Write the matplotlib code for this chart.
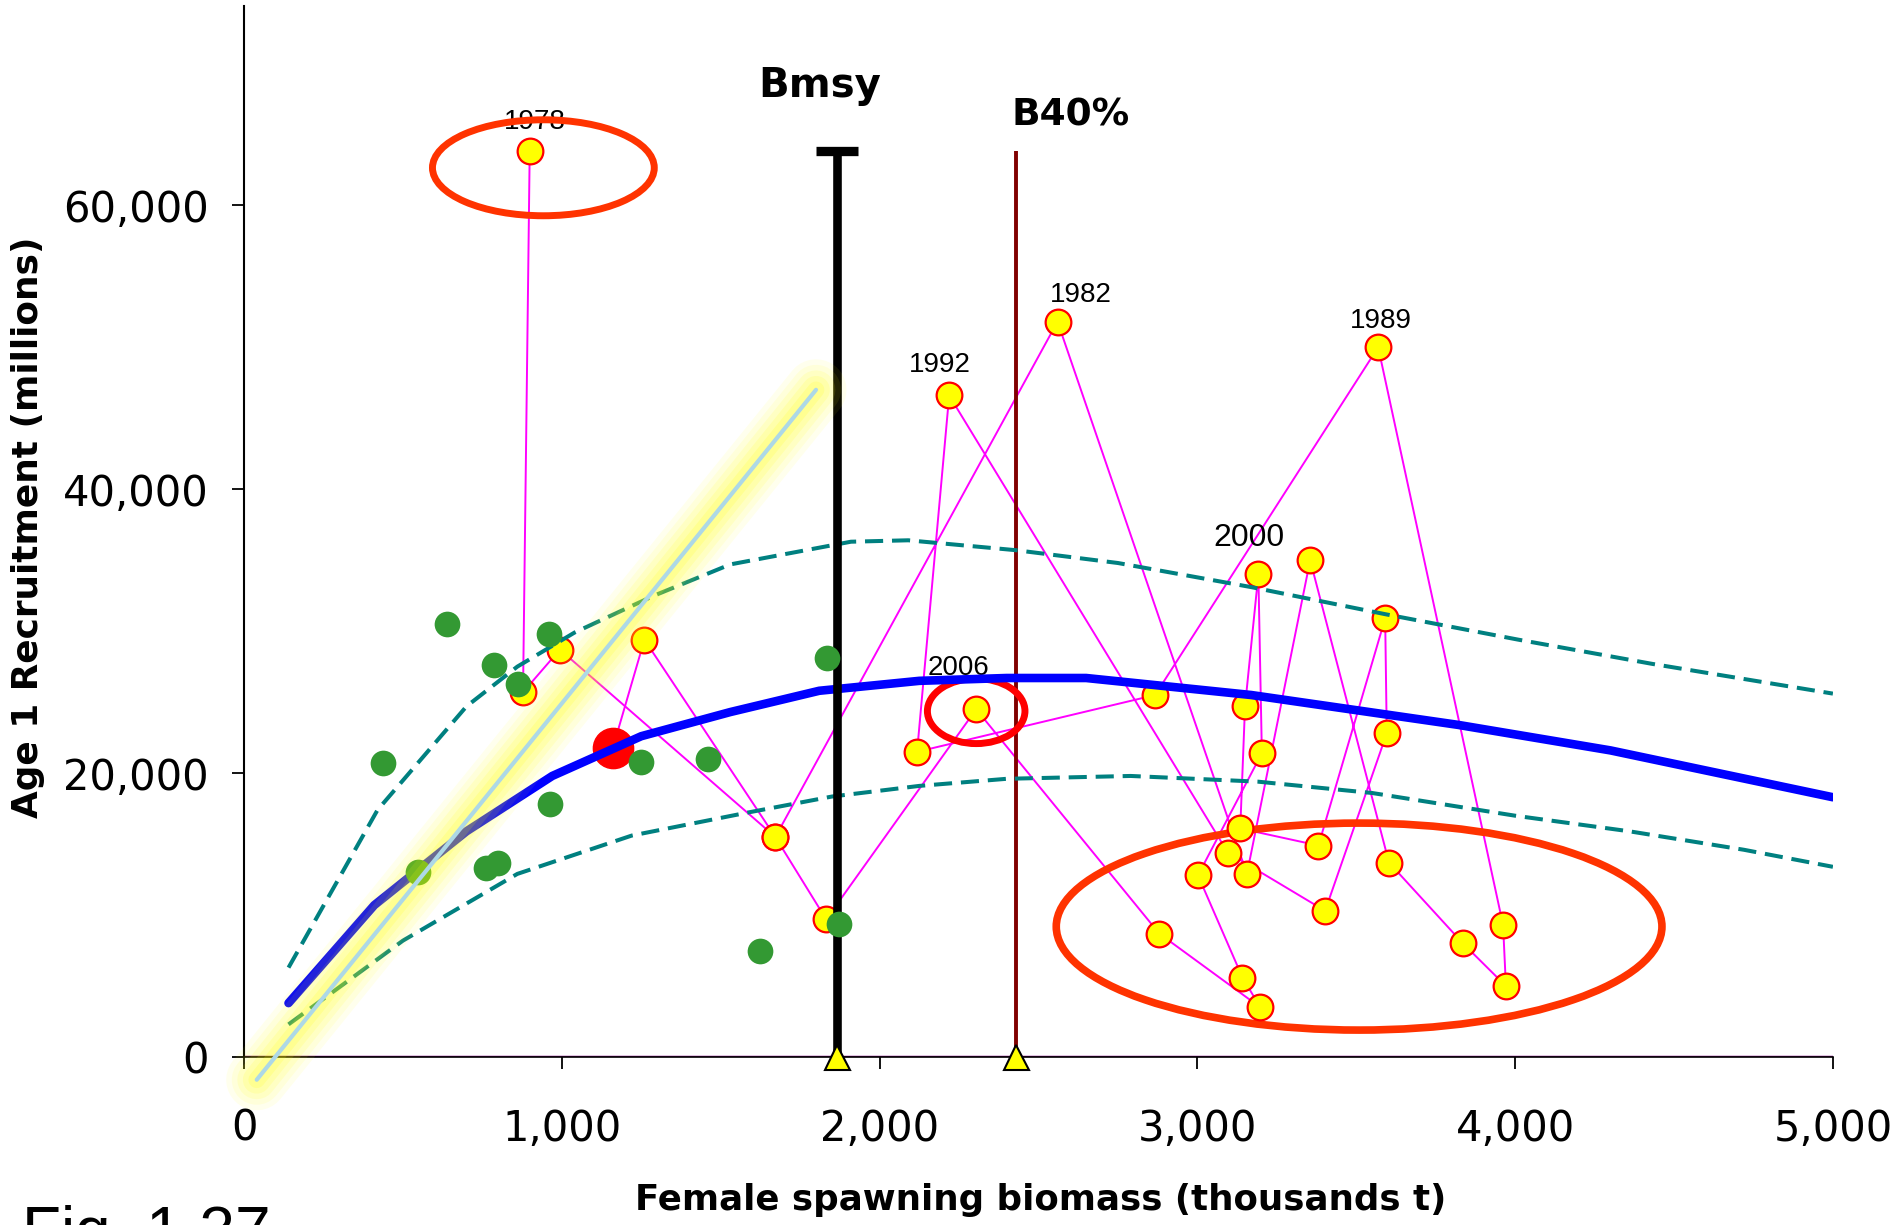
import matplotlib
matplotlib.use("Agg")
import matplotlib.pyplot as plt
from matplotlib.patches import Ellipse
from matplotlib.ticker import FuncFormatter

# year classes 1978-2009: female spawning biomass (thousand t) and age 1 recruits (millions)
years = list(range(1978, 2010))
ssb = [899, 878, 994, 1672, 2560, 3156, 3355, 3603, 3836, 3971, 3962, 3569, 2867, 2118, 2219, 3096,
       3402, 3596, 3591, 3381, 3135, 3150, 3192, 3203, 3002, 3142, 3198, 2880, 2304, 1832, 1672, 1260]
rec = [63800, 25700, 28700, 15500, 51800, 12900, 35000, 13700, 8000, 5000, 9300, 50000, 25500, 21500, 46600, 14400,
       10300, 22800, 30900, 14900, 16100, 24700, 34000, 21400, 12800, 5600, 3500, 8700, 24500, 9700, 15500, 29400]
last_ssb = 1161
last_rec = 21800

# earlier year classes (green)
green_ssb = [639, 437, 548, 762, 798, 788, 861, 960, 963, 1249, 1460, 1623, 1836, 1872]
green_rec = [30500, 20700, 13000, 13300, 13700, 27650, 26300, 29800, 17800, 20800, 21000, 7500, 28100, 9400]

# stock-recruitment curve and bounds
sr_ssb = [140, 410, 700, 970, 1250, 1530, 1810, 2125, 2400, 2650, 3170, 3820, 4300, 5000]
sr_rec = [3800, 10700, 15900, 19800, 22600, 24300, 25800, 26500, 26700, 26700, 25500, 23400, 21600, 18300]
up_ssb = [140, 420, 700, 860, 1040, 1290, 1530, 1910, 2090, 2430, 2750, 3170, 3590, 4010, 4430, 5000]
up_rec = [6300, 17400, 24700, 27500, 29900, 32500, 34700, 36300, 36400, 35700, 34800, 33100, 31200, 29400, 27700, 25600]
lo_ssb = [140, 500, 860, 1220, 1580, 1850, 2125, 2400, 2790, 3190, 3550, 4000, 4360, 4720, 5000]
lo_rec = [2300, 8200, 12900, 15600, 17200, 18350, 19100, 19600, 19800, 19400, 18600, 17000, 15900, 14600, 13400]

# replacement line
repl_ssb = [40, 1800]
repl_rec = [-1600, 47000]

bmsy = 1866
b40 = 2429
ref_top = 63800

labelled = [1978, 1982, 1989, 1992, 2000, 2006]
label_offsets = {1978: (4, 21), 1982: (17, 19), 1989: (2, 19), 1992: (-7, 22), 2000: (-7, 26), 2006: (-13, 30)}

fig = plt.figure(figsize=(18.99, 12.25), dpi=100)
ax = fig.add_axes([0.1285, 0.1371, 0.8367, 0.8576])

ax.axhline(0, color="#800080", lw=2.5, zorder=2)

# magenta time path with yellow points
ax.plot(ssb, rec, color="#FF00FF", lw=1.4, zorder=3)
ax.plot([ssb[-1], last_ssb], [rec[-1], last_rec], color="#FF00FF", lw=1.4, zorder=3)
ax.plot(ssb, rec, ls="none", marker="o", ms=18.5, mfc="#FFFF00", mec="#FF0000", mew=1.6, zorder=4)
ax.plot([last_ssb], [last_rec], ls="none", marker="o", ms=29, mfc="#FF0000", mec="#FF0000", zorder=4.2)

ax.plot([b40, b40], [0, ref_top], color="#800000", lw=2.8, solid_capstyle="butt", zorder=3.2)

# ellipses
ax.add_patch(Ellipse((942, 62640), 698, 6760, fill=False, ec="#FF3300", lw=5, zorder=3.5))
ax.add_patch(Ellipse((2304, 24370), 307, 4580, fill=False, ec="#FF0000", lw=5, zorder=3.5))
ax.add_patch(Ellipse((3509, 9190), 1906, 14580, fill=False, ec="#FF3300", lw=5.5, zorder=3.5))

for yr in labelled:
    i = years.index(yr)
    fs = 23 if yr == 2000 else 20
    ax.annotate(str(yr), (ssb[i], rec[i]), xytext=label_offsets[yr], textcoords="offset points",
                ha="center", va="center", fontsize=fs, family="Liberation Sans", zorder=3.4)

# curves
ax.plot(up_ssb, up_rec, color="#008080", lw=2.9, dashes=(4.5, 2.2), zorder=4.5)
ax.plot(lo_ssb, lo_rec, color="#008080", lw=2.9, dashes=(4.5, 2.2), zorder=4.5)
ax.plot(sr_ssb, sr_rec, color="#0000FF", lw=6.2, solid_capstyle="round", zorder=5)

# Bmsy bar
ax.plot([bmsy, bmsy], [0, ref_top], color="black", lw=6.2, solid_capstyle="butt", zorder=5.2)
ax.plot([bmsy - 67, bmsy + 65], [ref_top, ref_top], color="black", lw=6.7, solid_capstyle="butt", zorder=5.2)

ax.plot(green_ssb, green_rec, ls="none", marker="o", ms=18.5, mfc="#339933", mec="none", zorder=6)

# glowing replacement line
for lw, a in [(44, 0.07), (36, 0.08), (28, 0.10), (20, 0.12), (12, 0.15)]:
    ax.plot(repl_ssb, repl_rec, color="#FFFF00", lw=lw, alpha=a, solid_capstyle="round", clip_on=False, zorder=7)
ax.plot(repl_ssb, repl_rec, color="#ADD8E6", lw=3, solid_capstyle="round", clip_on=False, zorder=7.5)

ax.plot([bmsy, b40], [0, 0], ls="none", marker="^", ms=18, mfc="#FFFF00", mec="black", mew=1.5,
        clip_on=False, zorder=10)

ax.text(bmsy - 53, 67600, "Bmsy", ha="center", va="baseline", fontsize=29, fontweight="bold")
ax.text(2601, 65630, "B40%", ha="center", va="baseline", fontsize=27, fontweight="bold")

ax.set_xlim(0, 5000)
ax.set_ylim(0, 74000)
ax.set_xticks([0, 1000, 2000, 3000, 4000, 5000])
ax.set_yticks([0, 20000, 40000, 60000])
fmt = FuncFormatter(lambda v, p: f"{int(v):,}")
ax.xaxis.set_major_formatter(fmt)
ax.yaxis.set_major_formatter(fmt)
ax.tick_params(axis="both", direction="out", length=8.6, width=1.3, labelsize=30)
ax.tick_params(axis="x", pad=28)
ax.tick_params(axis="y", pad=17)
for s in ["top", "right"]:
    ax.spines[s].set_visible(False)
ax.spines["left"].set_linewidth(1.5)
ax.spines["bottom"].set_linewidth(1.2)

fig.text(28 / 1899, 1 - 527 / 1225, "Age 1 Recruitment (millions)", rotation=90, ha="center", va="center",
         fontsize=25.8, fontweight="bold")
fig.text(1041 / 1899, 1 - 1200 / 1225, "Female spawning biomass (thousands t)", ha="center", va="center",
         fontsize=25.7, fontweight="bold")
fig.text(22 / 1899, 1 - 1205 / 1225, "Fig. 1.37", ha="left", va="top", fontsize=46, family="Liberation Sans")

fig.savefig("out.png", dpi=100)
